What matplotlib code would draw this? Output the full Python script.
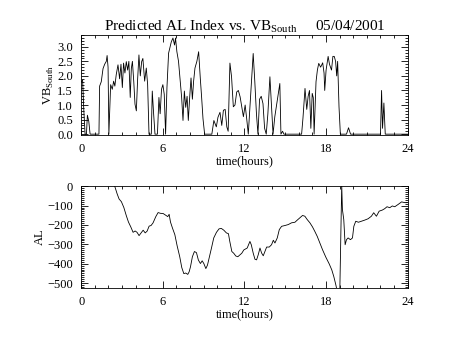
""" Predicted AL index vs. VB_south, 05/04/2001 """

import matplotlib
matplotlib.use('Agg')
from matplotlib import pyplot as plt
from matplotlib.ticker import MultipleLocator

plt.rcParams['font.family'] = ['Liberation Serif', 'DejaVu Serif']
plt.rcParams['mathtext.fontset'] = 'custom'
plt.rcParams['mathtext.rm'] = 'Liberation Serif'

# VB_south (hours, value)
vb_hours = [0.0, 0.1, 0.18, 0.28, 0.38, 0.45, 0.55, 0.65, 1.3, 1.35, 1.47,
            1.6, 1.72, 1.84, 1.9, 1.97, 2.03, 2.16, 2.28, 2.38, 2.47,
            2.57, 2.7, 2.82, 2.92, 3.02, 3.11, 3.21, 3.31, 3.41, 3.5,
            3.6, 3.68, 3.76, 3.86, 3.95, 4.05, 4.14, 4.24, 4.34, 4.44,
            4.53, 4.66, 4.78, 4.88, 4.98, 5.15, 5.22, 5.32, 5.42, 5.6,
            5.71, 5.8, 5.9, 6.0, 6.1, 6.2, 6.3, 6.42, 6.5, 6.62,
            6.74, 6.86, 6.93, 7.03, 7.15, 7.28, 7.38, 7.48, 7.58, 7.68,
            7.78, 7.87, 7.97, 8.07, 8.17, 8.26, 8.36, 8.5, 8.63, 8.75,
            8.85, 8.95, 9.07, 9.6, 9.75, 9.93, 10.05, 10.2, 10.33, 10.45,
            10.58, 10.7, 10.8, 10.93, 11.05, 11.18, 11.3, 11.43, 11.55, 11.68,
            11.8, 11.92, 12.05, 12.17, 12.28, 12.45, 12.64, 12.76, 12.88, 12.99,
            13.11, 13.23, 13.36, 13.48, 13.6, 13.72, 13.87, 13.99, 14.1, 14.23,
            14.6, 14.68, 14.8, 14.9, 16.2, 16.3, 16.45, 16.58, 16.68, 16.78,
            16.88, 16.98, 17.06, 17.12, 17.26, 17.36, 17.46, 17.6, 17.75, 17.85,
            17.9, 18.0, 18.15, 18.25, 18.4, 18.5, 18.6, 18.7, 18.78, 18.85,
            18.95, 19.05, 19.5, 19.65, 19.8, 22.0, 22.08, 22.15, 22.25, 22.35,
            24.0]
vb_values = [1.8, 1.85, 0.9, 0.0, 0.0, 0.65, 0.45, 0.0, 0.0, 1.65, 1.8,
             2.25, 2.4, 2.5, 2.7, 2.3, 0.0, 1.7, 1.54, 1.82, 1.65,
             2.04, 2.38, 1.9, 2.4, 1.6, 2.44, 2.1, 2.49, 2.2, 2.5,
             1.26, 2.25, 2.5, 1.8, 1.03, 0.8, 1.85, 2.72, 2.0, 2.49,
             2.6, 1.82, 2.27, 1.7, 0.0, 0.0, 1.48, 0.7, 0.0, 0.0,
             1.26, 0.7, 1.54, 1.7, 1.37, 0.0, 1.6, 2.78, 2.94, 3.17,
             3.3, 3.06, 3.3, 2.83, 2.5, 1.82, 1.26, 0.47, 1.48, 0.92,
             1.3, 0.47, 1.26, 1.93, 1.2, 1.82, 2.27, 2.5, 2.83, 1.93,
             1.26, 0.53, 0.0, 0.0, 0.47, 0.25, 0.58, 0.75, 0.3, 0.82,
             0.85, 0.25, 0.1, 2.44, 1.97, 0.94, 1.0, 1.45, 1.5, 1.28,
             0.94, 0.6, 1.0, 0.5, 0.0, 1.28, 2.77, 1.8, 0.7, 0.0,
             1.2, 1.3, 1.05, 0.2, 0.0, 0.7, 1.97, 0.94, 0.0, 0.6,
             1.74, 0.0, 0.1, 0.0, 0.0, 0.55, 1.57, 0.85, 1.3, 1.5,
             0.2, 1.4, 1.25, 0.0, 1.8, 2.2, 2.43, 2.3, 2.45, 2.1,
             1.5, 2.2, 2.67, 2.4, 2.2, 2.67, 2.67, 2.5, 2.0, 2.5,
             0.94, 0.0, 0.0, 0.22, 0.0, 0.0, 1.5, 0.2, 1.07, 0.0,
             0.0]

# AL index (hours, nT)
al_hours = [2.3, 2.46, 2.64, 2.78, 2.95, 3.13, 3.32, 3.47, 3.64, 3.81,
            3.96, 4.1, 4.25, 4.4, 4.55, 4.7, 4.84, 4.99, 5.13, 5.28,
            5.48, 5.65, 5.82, 6.02, 6.21, 6.36, 6.46, 6.56, 6.7, 6.88,
            7.05, 7.24, 7.39, 7.54, 7.68, 7.83, 7.93, 8.03, 8.17, 8.32,
            8.47, 8.61, 8.76, 8.89, 9.01, 9.16, 9.28, 9.4, 9.57, 9.74,
            9.94, 10.13, 10.3, 10.48, 10.67, 10.82, 10.92, 11.07, 11.21, 11.36,
            11.51, 11.65, 11.8, 11.95, 12.2, 12.4, 12.5, 12.64, 12.77, 12.89,
            13.01, 13.14, 13.26, 13.38, 13.5, 13.63, 13.82, 13.99, 14.12, 14.24,
            14.41, 14.56, 14.73, 14.97, 15.22, 15.46, 15.71, 15.88, 16.08, 16.27,
            16.44, 16.61, 16.81, 17.0, 17.17, 17.35, 17.54, 17.74, 17.98, 18.23,
            18.42, 18.57, 18.72, 18.81, 19.01, 19.08, 19.15, 19.2, 19.3, 19.4,
            19.5, 19.62, 19.79, 19.94, 20.04, 20.18, 20.38, 20.6, 20.84, 21.09,
            21.33, 21.5, 21.7, 21.9, 22.14, 22.31, 22.48, 22.68, 22.87, 23.05,
            23.3, 23.55, 23.8, 23.97]
al_values = [30, 0, -40, -66, -80, -110, -154, -185, -210, -238,
             -231, -238, -255, -241, -227, -241, -232, -206, -203, -189,
             -157, -136, -140, -141, -150, -157, -145, -185, -215, -250,
             -308, -364, -420, -451, -448, -455, -442, -416, -364, -337,
             -343, -381, -399, -385, -399, -425, -407, -372, -320, -267,
             -238, -220, -218, -227, -241, -245, -285, -337, -346, -360,
             -364, -355, -346, -329, -319, -285, -302, -345, -377, -380,
             -354, -319, -345, -359, -337, -314, -314, -302, -279, -293,
             -267, -224, -207, -203, -198, -189, -186, -175, -163, -151,
             -155, -172, -189, -210, -233, -259, -293, -328, -366, -401,
             -432, -467, -510, -540, -540, -259, 5, -120, -172, -302,
             -276, -267, -276, -267, -207, -181, -186, -181, -175, -168,
             -155, -137, -155, -129, -123, -116, -106, -111, -102, -106,
             -94, -81, -85, -85]

xticks = [0, 6, 12, 18, 24]


def style_axis(ax):
    ax.set_xlim(0, 24)
    ax.set_xticks(xticks)
    ax.xaxis.set_minor_locator(MultipleLocator(1))
    ax.tick_params(which='both', direction='in', top=True, right=True,
                   labelsize=9, width=0.6, pad=6)
    ax.tick_params(which='major', length=5)
    ax.tick_params(which='minor', length=2.5)
    for s in ax.spines.values():
        s.set_linewidth(0.6)
    ax.set_xlabel('time(hours)', fontsize=9, labelpad=0)


fig = plt.figure(figsize=(4.54, 3.41), dpi=100)

ax1 = fig.add_axes([0.179, 0.604, 0.719, 0.293])
ax1.plot(vb_hours, vb_values, color='black', linewidth=0.6)
style_axis(ax1)
ax1.set_ylim(-0.03, 3.4)
ax1.set_yticks([0.0, 0.5, 1.0, 1.5, 2.0, 2.5, 3.0])
ax1.set_yticklabels(['0.0', '0.5', '1.0', '1.5', '2.0', '2.5', '3.0'])
ax1.yaxis.set_minor_locator(MultipleLocator(0.1))
ax1.set_ylabel(r'VB$_{\rm South}$', fontsize=9, labelpad=1)
ax1.set_title(r'Predicted AL Index vs. VB$_{\rm South}$     05/04/2001',
              fontsize=11, pad=3)

ax2 = fig.add_axes([0.179, 0.155, 0.719, 0.299])
ax2.plot(al_hours, al_values, color='black', linewidth=0.6)
style_axis(ax2)
ax2.set_ylim(-526, 0)
ax2.set_yticks([0, -100, -200, -300, -400, -500])
ax2.yaxis.set_minor_locator(MultipleLocator(10))
ax2.set_ylabel('AL', fontsize=9, labelpad=1)

fig.savefig('out.png', dpi=100)
